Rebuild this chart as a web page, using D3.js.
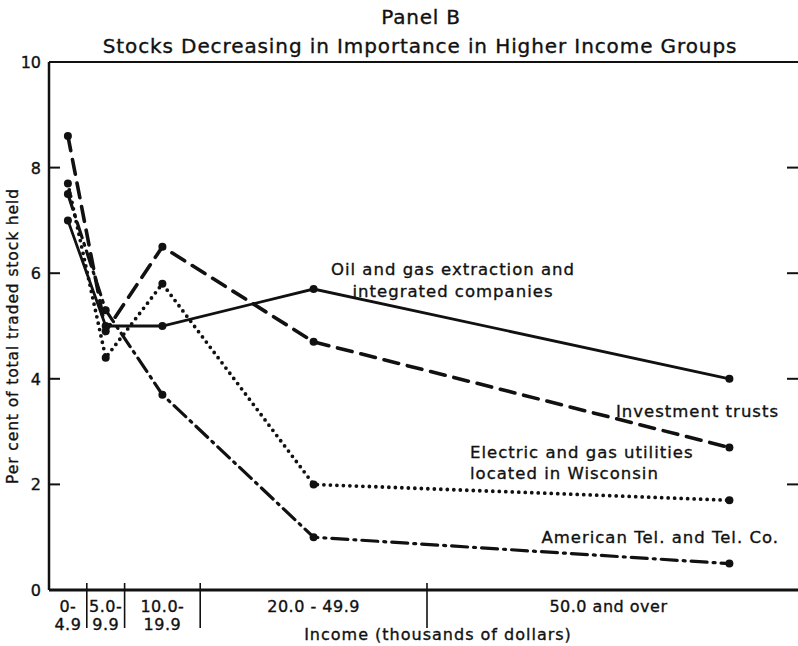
<!DOCTYPE html>
<html>
<head>
<meta charset="utf-8">
<script src="https://cdn.jsdelivr.net/npm/d3@7"></script>
<style>
  body { margin: 0; background: #fff; }
  text { font-family: "DejaVu Sans", sans-serif; fill: #111; stroke: #111; stroke-width: 0.35px; }
</style>
</head>
<body>
<div id="chart"></div>
<script>
// income group mid-points (thousands of dollars) where each value is plotted
const incomeMid = [2.5, 7.5, 15, 35, 90];
// class boundaries on the x axis
const bounds = [5, 10, 20, 50];
const groupLabels = [
  { x: 2.5, lines: ["0-", "4.9"] },
  { x: 7.5, lines: ["5.0-", "9.9"] },
  { x: 15, lines: ["10.0-", "19.9"] },
  { x: 35, lines: ["20.0 - 49.9"] },
  { x: 74, lines: ["50.0 and over"] }
];

const oilGas = [7.0, 5.0, 5.0, 5.7, 4.0];
const investTrusts = [8.6, 4.9, 6.5, 4.7, 2.7];
const electricGas = [7.7, 4.4, 5.8, 2.0, 1.7];
const attCo = [7.5, 5.3, 3.7, 1.0, 0.5];

const yTicks = [0, 2, 4, 6, 8, 10];

const width = 798, height = 646;
const margin = { left: 49, top: 62, bottom: 56 };

const svg = d3.select("#chart").append("svg")
  .attr("width", width)
  .attr("height", height);

const x = d3.scaleLinear().domain([0, 100]).range([margin.left, 805]);
const y = d3.scaleLinear().domain([0, 10]).range([height - margin.bottom, margin.top]);

// title
svg.append("text").attr("x", 421).attr("y", 24).attr("text-anchor", "middle")
  .style("font-size", "20px").style("letter-spacing", "0.8px").text("Panel B");
svg.append("text").attr("x", 420).attr("y", 53).attr("text-anchor", "middle")
  .style("font-size", "20px").style("letter-spacing", "0.9px")
  .text("Stocks Decreasing in Importance in Higher Income Groups");

// frame: left, top, bottom
const frame = svg.append("g").attr("stroke", "#111").attr("fill", "none");
frame.append("line").attr("x1", x(0)).attr("x2", x(0)).attr("y1", y(0)).attr("y2", y(10)).attr("stroke-width", 2.5);
frame.append("line").attr("x1", x(0)).attr("x2", width).attr("y1", y(10)).attr("y2", y(10)).attr("stroke-width", 2);
frame.append("line").attr("x1", x(0)).attr("x2", width).attr("y1", y(0)).attr("y2", y(0)).attr("stroke-width", 3);

// y ticks (inside on left, on right edge)
yTicks.filter(d => d > 0 && d < 10).forEach(d => {
  frame.append("line").attr("x1", x(0)).attr("x2", x(0) + 11).attr("y1", y(d)).attr("y2", y(d)).attr("stroke-width", 2);
  frame.append("line").attr("x1", width - 11).attr("x2", width).attr("y1", y(d)).attr("y2", y(d)).attr("stroke-width", 2);
});
svg.selectAll(".ylab").data(yTicks).enter().append("text")
  .attr("x", x(0) - 8).attr("y", d => y(d) + 6)
  .attr("text-anchor", "end").style("font-size", "16px")
  .text(d => d);

// y axis title
svg.append("text")
  .attr("transform", `translate(18,${y(5) + 10}) rotate(-90)`)
  .attr("text-anchor", "middle").style("font-size", "15.5px").style("letter-spacing", "0.9px")
  .text("Per cent of total traded stock held");

// x class boundaries
bounds.forEach(b => {
  frame.append("line").attr("x1", x(b)).attr("x2", x(b)).attr("y1", y(0) - 7).attr("y2", y(0) + 38).attr("stroke-width", 1.6);
});

groupLabels.forEach(g => {
  g.lines.forEach((s, i) => {
    svg.append("text").attr("x", x(g.x)).attr("y", y(0) + 22 + i * 18)
      .attr("text-anchor", "middle").style("font-size", "16px").style("letter-spacing", "0.5px").text(s);
  });
});
svg.append("text").attr("x", 438).attr("y", y(0) + 50).attr("text-anchor", "middle")
  .style("font-size", "16px").style("letter-spacing", "1px").text("Income (thousands of dollars)");

// series
const series = [
  { vals: oilGas, dash: null, w: 2.8 },
  { vals: investTrusts, dash: "15,9", w: 3.6 },
  { vals: electricGas, dash: "0,6.5", w: 3.8 },
  { vals: attCo, dash: "16,6,2,6", w: 3.2 }
];

const line = d3.line().x((d, i) => x(incomeMid[i])).y(d => y(d));

series.forEach(s => {
  svg.append("path").datum(s.vals)
    .attr("d", line)
    .attr("fill", "none")
    .attr("stroke", "#111")
    .attr("stroke-width", s.w)
    .attr("stroke-linecap", "round")
    .attr("stroke-dasharray", s.dash);
  svg.selectAll(null).data(s.vals).enter().append("circle")
    .attr("cx", (d, i) => x(incomeMid[i]))
    .attr("cy", d => y(d))
    .attr("r", 4)
    .attr("fill", "#111");
});

// labels
const labels = [
  { x: 453, y: 275, anchor: "middle", t: "Oil and gas extraction and" },
  { x: 453, y: 297, anchor: "middle", t: "integrated companies" },
  { x: 779, y: 417, anchor: "end", t: "Investment trusts" },
  { x: 470, y: 458, anchor: "start", t: "Electric and gas utilities" },
  { x: 470, y: 479, anchor: "start", t: "located in Wisconsin" },
  { x: 779, y: 543, anchor: "end", t: "American Tel. and Tel. Co." }
];
svg.selectAll(".lbl").data(labels).enter().append("text")
  .attr("x", d => d.x).attr("y", d => d.y)
  .attr("text-anchor", d => d.anchor)
  .style("font-size", "16.5px").style("letter-spacing", "1px")
  .text(d => d.t);
</script>
</body>
</html>
